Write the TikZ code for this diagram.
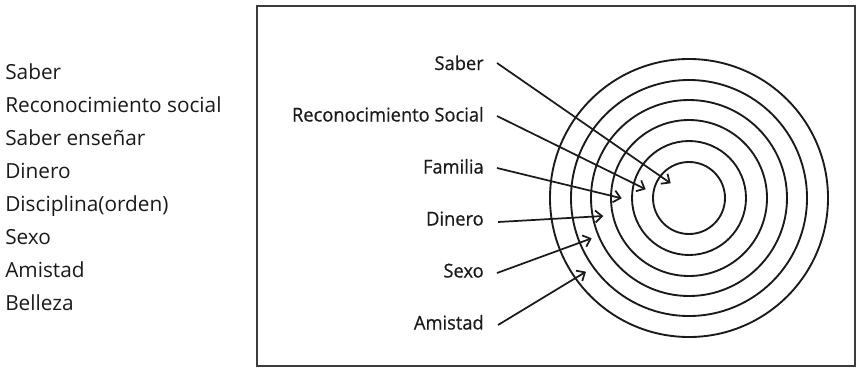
\documentclass[tikz,border=0pt]{standalone}
\usepackage{fontspec}
\setmainfont{Open Sans}
\newfontfamily\lblfont[FakeBold=0.5,FakeStretch=0.96]{Open Sans}
\usetikzlibrary{arrows.meta}
\definecolor{ink}{HTML}{1A1A1A}
\definecolor{framecol}{HTML}{3C3C3C}
\tikzset{
  listitem/.style={anchor=base west, inner sep=0pt, font=\fontsize{15.6pt}{18pt}\selectfont, text=ink},
  lbl/.style={anchor=base east, inner sep=0pt, font=\lblfont\fontsize{14.3pt}{16pt}\selectfont, text=ink},
  ring/.style={draw=ink, line width=1.4pt},
  pointer/.style={draw=ink, line width=1.3pt, -{Straight Barb[length=5pt,width=9pt,line width=1.3pt]}},
  framebox/.style={draw=framecol, line width=1.8pt}
}
\begin{document}
\begin{tikzpicture}[x=0.75pt,y=-0.75pt]
\useasboundingbox (0,0) rectangle (860,369);
% left list
\node[listitem] (l1) at (5,79) {Saber};
\node[listitem] (l2) at (5,112) {Reconocimiento social};
\node[listitem] (l3) at (5,145) {Saber enseñar};
\node[listitem] (l4) at (5,178) {Dinero};
\node[listitem] (l5) at (5,211) {Disciplina(orden)};
\node[listitem] (l6) at (5,244) {Sexo};
\node[listitem] (l7) at (5,277) {Amistad};
\node[listitem] (l8) at (5,310) {Belleza};
% frame
\node[framebox, minimum width=598*0.75pt, minimum height=360*0.75pt, inner sep=0pt] (frame) at (556,186) {};
% rings
\coordinate (c) at (689,198);
\foreach \r in {36,57,78,98,118,139}{
  \draw[ring] (c) circle[radius=\r*0.75pt];
}
% labels
\node[lbl] (a1) at (484,70) {Saber};
\node[lbl] (a2) at (484,121.5) {Reconocimiento Social};
\node[lbl] (a3) at (484,173.5) {Familia};
\node[lbl] (a4) at (484,225.5) {Dinero};
\node[lbl] (a5) at (484,277.5) {Sexo};
\node[lbl] (a6) at (484,329.5) {Amistad};
% arrow start and tip points
\coordinate (s1) at (497,63);   \coordinate (t1) at (670.7,183.3);
\coordinate (s2) at (497,116);  \coordinate (t2) at (645.7,189.3);
\coordinate (s3) at (497,168);  \coordinate (t3) at (621.7,198.3);
\coordinate (s4) at (498,222);  \coordinate (t4) at (603.3,216);
\coordinate (s5) at (497,273);  \coordinate (t5) at (591.7,238.3);
\coordinate (s6) at (498,325);  \coordinate (t6) at (586,271.7);
\foreach \i in {1,...,6}{
  \draw[pointer] (s\i) -- (t\i);
}
\end{tikzpicture}
\end{document}
